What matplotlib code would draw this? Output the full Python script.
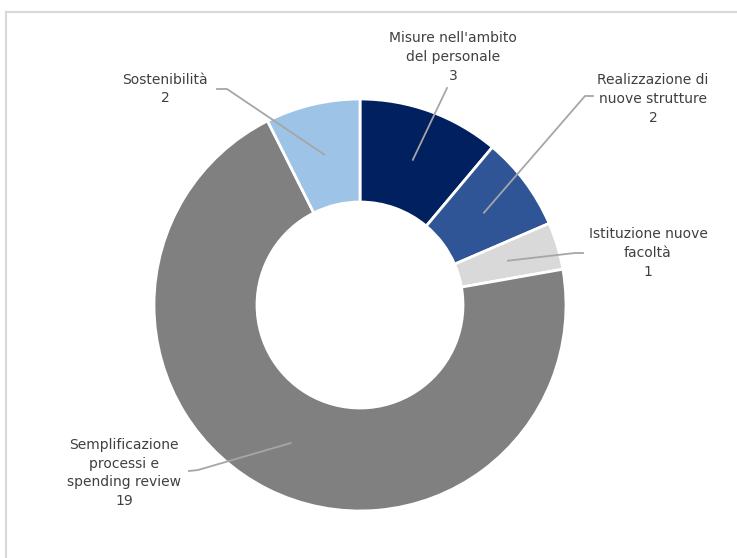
import numpy as np
import matplotlib.pyplot as plt

# dati del grafico
categorie = ["Misure nell'ambito\ndel personale", "Realizzazione di\nnuove strutture",
             "Istituzione nuove\nfacoltà", "Semplificazione\nprocessi e\nspending review",
             "Sostenibilità"]
valori = [3, 2, 1, 19, 2]
colori = ['#002060', '#2f5597', '#d9d9d9', '#808080', '#9dc3e6']

# posizione delle etichette (pixel, origine in alto a sinistra)
pos_testo = [(453, 57), (653, 99), (648, 253), (124, 473), (165, 89)]
# inizio della linea guida e gomito
linea_inizio = [(447, 88), (593, 96), (583, 253), (189, 471), (217, 89)]
linea_gomito = [None, (585, 96), (575, 253), (198, 470), (227, 89)]

W, H = 737, 558
cx, cy = 360, H - 305
R = 206
spessore = 103

fig = plt.figure(figsize=(W / 100, H / 100), dpi=100)
ax = fig.add_axes([0, 0, 1, 1])
ax.pie(valori, colors=colori, startangle=90, counterclock=False, radius=R,
       center=(cx, cy), frame=True,
       wedgeprops=dict(width=spessore, edgecolor='white', linewidth=2))
ax.set_xlim(0, W)
ax.set_ylim(0, H)
ax.axis('off')

# bordo del riquadro
ax.plot([6.5, 6.5], [-5, H - 12], color='#d9d9d9', lw=1.5)
ax.plot([6.5, W + 5], [H - 12, H - 12], color='#d9d9d9', lw=1.5)

# etichette con linee guida verso il centro dell'anello
totale = sum(valori)
angolo = 90.0
r_medio = R - spessore / 2
for i in range(len(valori)):
    ampiezza = valori[i] / totale * 360
    medio = np.deg2rad(angolo - ampiezza / 2)
    angolo -= ampiezza
    px = cx + r_medio * np.cos(medio)
    py = cy + r_medio * np.sin(medio)
    xs = [linea_inizio[i][0]]
    ys = [H - linea_inizio[i][1]]
    if linea_gomito[i] is not None:
        xs.append(linea_gomito[i][0])
        ys.append(H - linea_gomito[i][1])
    xs.append(px)
    ys.append(py)
    ax.plot(xs, ys, color='#a6a6a6', lw=1.3)
    tx, ty = pos_testo[i]
    ax.text(tx, H - ty, categorie[i] + '\n' + str(valori[i]), ha='center', va='center',
            fontsize=10, color='#404040', linespacing=1.45)

fig.savefig('out.png', dpi=100)
